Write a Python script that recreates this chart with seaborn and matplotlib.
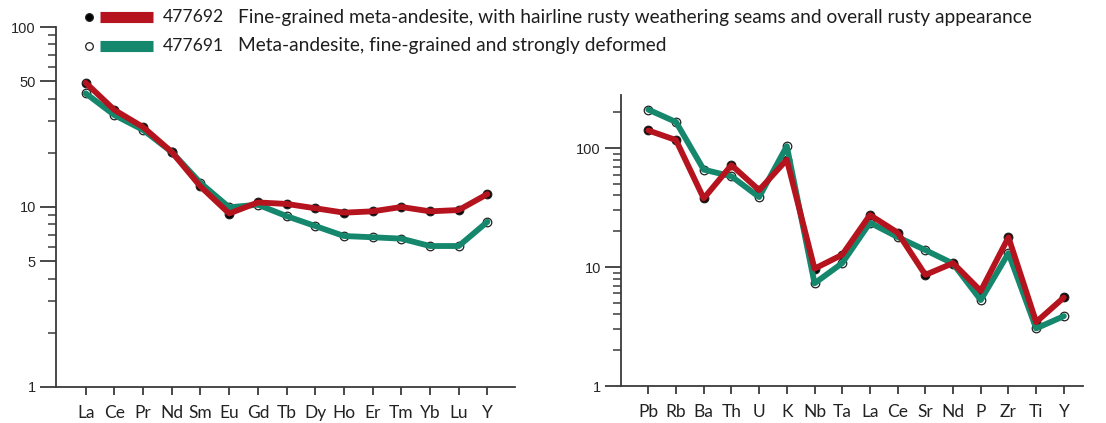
import numpy as np
import pandas as pd
import matplotlib
matplotlib.use("Agg")
import matplotlib.pyplot as plt
from matplotlib.lines import Line2D
from matplotlib.ticker import FixedLocator, NullFormatter, FixedFormatter
import seaborn as sns

# ---- data -------------------------------------------------------------
ree_elements = ["La", "Ce", "Pr", "Nd", "Sm", "Eu", "Gd", "Tb", "Dy", "Ho",
                "Er", "Tm", "Yb", "Lu", "Y"]
ree_477692 = [49, 34.6, 27.8, 20.2, 13.0, 9.2, 10.6, 10.4, 9.84, 9.3,
              9.46, 10.0, 9.46, 9.62, 11.8]
ree_477691 = [42.8, 32.4, 26.8, 20.2, 13.6, 9.96, 10.3, 8.9, 7.84, 6.9,
              6.79, 6.67, 6.07, 6.07, 8.28]

spider_elements = ["Pb", "Rb", "Ba", "Th", "U", "K", "Nb", "Ta", "La", "Ce",
                   "Sr", "Nd", "P", "Zr", "Ti", "Y"]
spider_477692 = [141, 117, 37.8, 72, 44.4, 80, 9.7, 12.7, 27.4, 19.5,
                 8.6, 10.8, 6.3, 17.8, 3.45, 5.55]
spider_477691 = [211, 166, 66, 58, 38.8, 104, 7.3, 10.8, 23.6, 17.9,
                 13.9, 10.7, 5.28, 13.1, 3.05, 3.87]

samples = ["477692", "477691"]
descriptions = [
    "Fine-grained meta-andesite, with hairline rusty weathering seams and overall rusty appearance",
    "Meta-andesite, fine-grained and strongly deformed",
]

RED = "#b5141f"
GREEN = "#15876d"
AXIS = "#3a3a3a"
LABEL_FONT = ["Lato", "DejaVu Sans"]
NUM_FONT = ["Liberation Sans", "DejaVu Sans"]

sns.set_theme(style="white")
plt.rcParams["font.family"] = LABEL_FONT


def long_frame(elements, a, b):
    n = len(elements)
    return pd.DataFrame({
        "pos": list(range(n)) * 2,
        "value": list(a) + list(b),
        "sample": ["477692"] * n + ["477691"] * n,
    })


def draw_panel(ax, elements, a, b):
    df = long_frame(elements, a, b)
    # green first, red on top
    for sample, color, face in [("477691", GREEN, "white"), ("477692", RED, "black")]:
        sub = df[df["sample"] == sample]
        sns.scatterplot(data=sub, x="pos", y="value", ax=ax, color=face,
                        edgecolor="#202020", linewidth=0.9, s=38, zorder=2,
                        legend=False)
        sns.lineplot(data=sub, x="pos", y="value", ax=ax, color=color,
                     linewidth=4.2, sort=False, zorder=3, legend=False,
                     solid_capstyle="round", solid_joinstyle="round")
    ax.set_yscale("log")
    ax.set_xlabel("")
    ax.set_ylabel("")
    ax.set_xticks(range(len(elements)))
    ax.set_xticklabels(elements, fontsize=12.5, family=LABEL_FONT, color="#222222")
    ax.tick_params(axis="x", which="major", length=6, width=1.3, color=AXIS,
                   direction="out", pad=7, bottom=True)
    ax.tick_params(axis="y", which="major", length=11.5, width=1.3, color=AXIS,
                   direction="out", pad=3, left=True, labelsize=10.5)
    ax.tick_params(axis="y", which="minor", length=5.8, width=1.1, color=AXIS,
                   direction="out", left=True)
    for side in ["top", "right"]:
        ax.spines[side].set_visible(False)
    for side in ["left", "bottom"]:
        ax.spines[side].set_color(AXIS)
        ax.spines[side].set_linewidth(1.3)
    ax.grid(False)
    ax.set_facecolor("white")


fig = plt.figure(figsize=(11.06, 4.23), dpi=100)
fig.patch.set_facecolor("white")

ax1 = fig.add_axes([0.05063, 0.08511, 0.41501, 0.85106])
draw_panel(ax1, ree_elements, ree_477692, ree_477691)
ax1.set_xlim(-1.035, 14.96)
ax1.set_ylim(1, 100)
ax1.yaxis.set_major_locator(FixedLocator([1, 5, 10, 50, 100]))
ax1.yaxis.set_major_formatter(FixedFormatter(["1", "5", "10", "50", "100"]))
ax1.yaxis.set_minor_locator(FixedLocator([2, 3, 4, 6, 7, 8, 9, 20, 30, 40, 60, 70, 80, 90]))
ax1.yaxis.set_minor_formatter(NullFormatter())
for lab in ax1.get_yticklabels():
    lab.set_family(NUM_FONT)

ax2 = fig.add_axes([0.56148, 0.08747, 0.41772, 0.68794])
draw_panel(ax2, spider_elements, spider_477692, spider_477691)
ax2.set_xlim(-0.985, 15.69)
ax2.set_ylim(1, 280)
ax2.yaxis.set_major_locator(FixedLocator([1, 10, 100]))
ax2.yaxis.set_major_formatter(FixedFormatter(["1", "10", "100"]))
ax2.yaxis.set_minor_locator(FixedLocator([2, 3, 4, 5, 6, 7, 8, 9, 20, 30, 40, 50, 60, 70, 80, 90, 200]))
ax2.yaxis.set_minor_formatter(NullFormatter())
for lab in ax2.get_yticklabels():
    lab.set_family(NUM_FONT)

# ---- legend block across the top ----------------------------------------
W, H = 1106.0, 423.0
rows = [(17, RED, "black"), (46, GREEN, "white")]
for (ypx, color, face), sid, desc in zip(rows, samples, descriptions):
    yf = 1 - ypx / H
    fig.add_artist(Line2D([89 / W], [yf], marker="o", markersize=5.5,
                          markerfacecolor=face, markeredgecolor="#202020",
                          markeredgewidth=0.9, linestyle="none",
                          transform=fig.transFigure))
    fig.add_artist(Line2D([100 / W, 153 / W], [yf, yf], color=color,
                          linewidth=8, solid_capstyle="butt",
                          transform=fig.transFigure))
    fig.text(163 / W, yf, sid, fontsize=12.6, va="center", ha="left",
             family=LABEL_FONT, color="#1e1e1e")
    fig.text(238 / W, yf, desc, fontsize=13.8, va="center", ha="left",
             family=LABEL_FONT, color="#1e1e1e")

fig.savefig("out.png", dpi=100, facecolor="white")
